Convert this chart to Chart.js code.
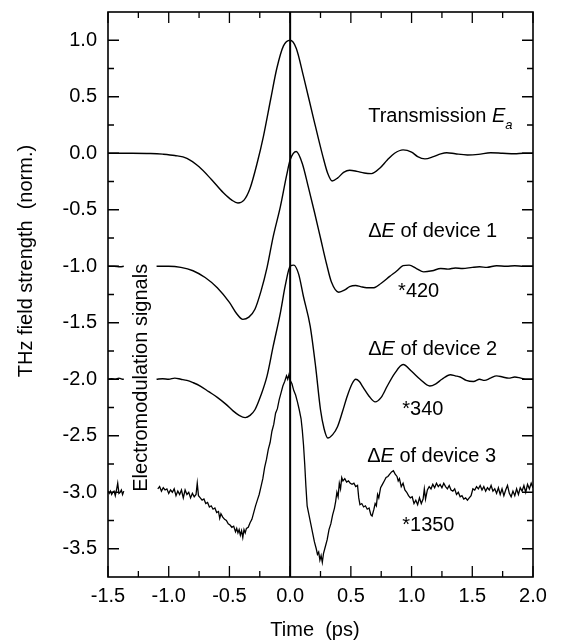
<!DOCTYPE html>
<html><head><meta charset="utf-8">
<script src="https://cdn.jsdelivr.net/npm/chart.js@4.4.0/dist/chart.umd.min.js"></script>
<style>html,body{margin:0;padding:0;background:#fff}#wrap{width:566px;height:642px;position:relative}</style>
</head><body><div id="wrap"><canvas id="c"></canvas></div>
<script>
// ---- Data ----
const transTime = [-1.5,-1.3,-1.15,-1.05,-0.95,-0.85,-0.75,-0.65,-0.55,-0.48,-0.43,-0.38,-0.33,-0.27,-0.22,-0.16,-0.11,-0.055,0.0,0.05,0.11,0.19,0.27,0.31,0.345,0.39,0.44,0.49,0.55,0.61,0.67,0.74,0.8,0.86,0.93,1.0,1.05,1.11,1.18,1.24,1.29,1.36,1.46,1.55,1.65,1.75,1.85,1.92,2.0];
const transVals = [0,0,-0.002,-0.008,-0.02,-0.045,-0.12,-0.23,-0.35,-0.415,-0.44,-0.415,-0.31,-0.08,0.15,0.48,0.75,0.95,1.0,0.93,0.68,0.32,-0.03,-0.18,-0.245,-0.22,-0.17,-0.15,-0.16,-0.175,-0.18,-0.13,-0.06,0.0,0.03,0.01,-0.03,-0.05,-0.03,-0.005,0.005,-0.005,-0.015,-0.01,0.005,0.0,-0.005,0.0,0.0];

const dev1Time = [-1.5,-1.45,-1.4,-1.37,-1.3,-1.1,-1.0,-0.9,-0.8,-0.7,-0.6,-0.5,-0.44,-0.39,-0.34,-0.29,-0.24,-0.19,-0.14,-0.08,-0.03,0.0,0.05,0.1,0.15,0.2,0.25,0.3,0.34,0.4,0.45,0.49,0.54,0.58,0.63,0.69,0.75,0.82,0.88,0.93,0.98,1.04,1.1,1.17,1.24,1.3,1.36,1.42,1.5,1.56,1.62,1.7,1.78,1.85,1.92,2.0];
const dev1Vals = [-1.0,-1.0,-1.005,-1.0,null,-1.0,-1.0,-1.01,-1.04,-1.10,-1.19,-1.32,-1.42,-1.47,-1.45,-1.38,-1.22,-1.01,-0.74,-0.47,-0.2,-0.06,0.015,-0.09,-0.3,-0.52,-0.75,-0.98,-1.14,-1.23,-1.21,-1.18,-1.17,-1.18,-1.19,-1.19,-1.15,-1.09,-1.04,-0.995,-0.99,-1.02,-1.05,-1.04,-1.02,-1.025,-1.015,-1.02,-1.01,-1.005,-1.01,-0.995,-1.0,-0.995,-1.0,-1.0];

const dev2Time = [-1.5,-1.47,-1.44,-1.41,-1.38,-1.37,-1.3,-1.1,-1.05,-1.0,-0.95,-0.9,-0.85,-0.8,-0.74,-0.67,-0.6,-0.53,-0.47,-0.42,-0.37,-0.33,-0.29,-0.24,-0.19,-0.14,-0.08,-0.04,0.0,0.03,0.07,0.11,0.165,0.21,0.25,0.28,0.31,0.35,0.39,0.43,0.47,0.51,0.54,0.57,0.6,0.65,0.7,0.75,0.8,0.86,0.93,1.0,1.07,1.15,1.2,1.25,1.32,1.36,1.4,1.45,1.51,1.56,1.6,1.65,1.7,1.75,1.8,1.85,1.9,1.95,2.0];
const dev2Vals = [-2.0,-1.995,-2.0,-1.99,-2.0,-2.0,null,-2.0,-1.995,-2.0,-1.99,-2.0,-2.01,-2.03,-2.06,-2.11,-2.16,-2.22,-2.28,-2.32,-2.34,-2.32,-2.27,-2.14,-1.97,-1.71,-1.41,-1.17,-1.0,-0.99,-1.07,-1.27,-1.53,-1.89,-2.27,-2.44,-2.52,-2.49,-2.42,-2.29,-2.15,-2.04,-2.0,-2.02,-2.07,-2.15,-2.2,-2.16,-2.06,-1.95,-1.87,-1.93,-2.0,-2.06,-2.04,-2.0,-1.96,-1.97,-1.98,-2.01,-2.02,-2.0,-2.01,-1.99,-1.97,-1.98,-1.99,-1.98,-1.99,-2.0,-2.0];

const dev3Time = [-1.5,-1.49,-1.48,-1.47,-1.46,-1.45,-1.44,-1.43,-1.42,-1.41,-1.4,-1.39,-1.38,-1.37,-1.3,
 -1.09,-1.075,-1.06,-1.045,-1.03,-1.015,-1.0,-0.985,-0.97,-0.955,-0.94,-0.925,-0.91,-0.895,-0.88,-0.865,-0.85,-0.835,-0.82,-0.805,-0.79,-0.775,-0.765,-0.755,-0.74,-0.725,-0.71,-0.695,-0.68,-0.665,-0.65,-0.635,-0.62,-0.605,-0.59,-0.58,-0.57,-0.555,-0.54,-0.525,-0.51,-0.495,-0.48,-0.465,-0.45,-0.44,-0.43,-0.42,-0.41,-0.4,-0.39,-0.38,-0.37,-0.36,-0.345,-0.33,-0.315,-0.3,-0.285,-0.27,-0.255,-0.24,-0.225,-0.21,-0.195,-0.18,-0.165,-0.15,-0.135,-0.12,-0.105,-0.09,-0.075,-0.06,-0.045,-0.03,-0.02,-0.01,
 0.0,0.015,0.03,0.045,0.06,0.075,0.09,0.1,0.11,0.12,0.13,0.14,0.155,0.17,0.185,0.2,0.215,0.225,0.235,0.245,0.255,0.265,0.275,0.29,0.305,0.32,0.335,0.35,0.365,0.375,0.385,0.395,0.405,0.415,0.425,0.435,0.45,0.465,0.48,0.495,0.51,0.525,0.54,0.555,0.565,0.575,0.59,0.605,0.62,0.635,0.65,0.665,0.675,0.69,0.7,0.71,0.72,0.73,0.745,0.76,0.775,0.79,0.805,0.82,0.835,0.85,0.865,0.88,0.89,0.9,0.915,0.93,0.945,0.96,0.975,0.99,
 1.005,1.02,1.035,1.05,1.065,1.08,1.095,1.105,1.115,1.13,1.145,1.16,1.175,1.19,1.205,1.22,1.235,1.25,1.265,1.28,1.295,1.31,1.325,1.34,1.355,1.37,1.385,1.4,1.415,1.43,1.445,1.46,1.475,1.49,1.505,1.52,1.535,1.55,1.565,1.58,1.595,1.61,1.625,1.64,1.655,1.67,1.685,1.7,1.715,1.73,1.745,1.76,1.775,1.79,1.805,1.82,1.835,1.85,1.865,1.88,1.895,1.91,1.925,1.94,1.955,1.97,1.985,2.0];
const dev3Vals = [-2.99,-3.01,-2.99,-3.02,-3.0,-2.99,-3.03,-2.98,-2.92,-3.01,-3.0,-2.98,-3.02,-2.99,null,
 -2.97,-2.95,-2.99,-2.96,-2.98,-2.97,-3.01,-2.98,-3.0,-2.97,-3.03,-2.99,-3.02,-2.98,-3.05,-2.98,-3.02,-3.0,-3.05,-3.01,-3.04,-3.02,-2.92,-3.03,-3.05,-3.07,-3.06,-3.1,-3.09,-3.13,-3.12,-3.15,-3.14,-3.18,-3.17,-3.23,-3.19,-3.22,-3.24,-3.25,-3.28,-3.29,-3.31,-3.3,-3.35,-3.32,-3.36,-3.33,-3.38,-3.34,-3.4,-3.33,-3.36,-3.32,-3.31,-3.27,-3.24,-3.18,-3.12,-3.07,-3.02,-2.95,-2.88,-2.78,-2.71,-2.62,-2.56,-2.46,-2.4,-2.3,-2.26,-2.18,-2.12,-2.06,-2.02,-1.97,-2.0,-1.96,
 -2.01,-2.04,-2.1,-2.14,-2.2,-2.27,-2.35,-2.45,-2.58,-2.75,-2.95,-3.12,-3.2,-3.28,-3.36,-3.44,-3.5,-3.55,-3.53,-3.6,-3.56,-3.62,-3.54,-3.48,-3.42,-3.33,-3.28,-3.2,-3.14,-3.08,-3.0,-3.04,-2.92,-2.97,-2.87,-2.9,-2.88,-2.91,-2.9,-2.92,-2.93,-2.92,-2.95,-2.94,-3.05,-3.11,-3.1,-3.13,-3.12,-3.15,-3.14,-3.2,-3.21,-3.15,-3.1,-3.12,-3.02,-3.05,-2.96,-2.93,-2.9,-2.87,-2.86,-2.84,-2.82,-2.81,-2.84,-2.86,-2.9,-2.88,-2.95,-2.92,-2.98,-3.0,-3.03,-3.05,
 -3.04,-3.1,-3.07,-3.11,-3.05,-3.1,-3.06,-2.97,-3.06,-2.98,-2.95,-2.97,-2.93,-2.96,-2.92,-2.95,-2.93,-2.96,-2.92,-2.95,-2.97,-2.94,-2.98,-2.99,-2.97,-3.02,-3.0,-3.04,-3.03,-3.06,-3.05,-3.07,-3.05,-3.03,-2.97,-2.98,-2.95,-2.97,-2.94,-2.98,-2.95,-2.99,-2.96,-2.98,-2.94,-2.99,-2.97,-3.01,-2.96,-3.02,-2.97,-3.03,-2.98,-2.94,-3.01,-3.04,-2.99,-3.03,-2.97,-3.02,-2.96,-2.99,-2.94,-3.0,-2.93,-2.97,-2.92,-2.96];

const zeroTime = 0.0;
const xMin = -1.5, xMax = 2.0, yMin = -3.75, yMax = 1.25;
const xTickValues = [-1.5,-1.0,-0.5,0.0,0.5,1.0,1.5,2.0];
const xMinorTicks = [-1.25,-0.75,-0.25,0.25,0.75,1.25,1.75];
const yTickValues = [-3.5,-3.0,-2.5,-2.0,-1.5,-1.0,-0.5,0.0,0.5,1.0];
const yMinorTicks = [-3.25,-2.75,-2.25,-1.75,-1.25,-0.75,-0.25,0.25,0.75];

const FONT = '"Liberation Sans", Arial, Helvetica, sans-serif';

function pts(t, v) { return t.map((x, i) => ({ x: x, y: v[i] })); }

const decorPlugin = {
  id: 'decor',
  afterDraw(chart) {
    const ctx = chart.ctx, a = chart.chartArea;
    const xs = chart.scales.x, ys = chart.scales.y;
    ctx.save();
    ctx.strokeStyle = '#000';
    ctx.lineWidth = 1.6;
    ctx.strokeRect(a.left, a.top, a.right - a.left, a.bottom - a.top);
    ctx.lineWidth = 1.3;
    const major = 11, minor = 6;
    ctx.beginPath();
    const xt = (v, len) => { const p = xs.getPixelForValue(v); ctx.moveTo(p, a.bottom); ctx.lineTo(p, a.bottom - len); ctx.moveTo(p, a.top); ctx.lineTo(p, a.top + len); };
    const yt = (v, len) => { const p = ys.getPixelForValue(v); ctx.moveTo(a.left, p); ctx.lineTo(a.left + len, p); ctx.moveTo(a.right, p); ctx.lineTo(a.right - len, p); };
    xTickValues.forEach(v => xt(v, major));
    xMinorTicks.forEach(v => xt(v, minor));
    yTickValues.forEach(v => yt(v, major));
    yMinorTicks.forEach(v => yt(v, minor));
    ctx.stroke();

    ctx.fillStyle = '#000';
    const F = (s, it) => (it ? 'italic ' : '') + s + 'px ' + FONT;
    const X = v => xs.getPixelForValue(v), Y = v => ys.getPixelForValue(v);
    ctx.textBaseline = 'alphabetic';
    ctx.textAlign = 'left';
    function runs(x, y, parts) {
      parts.forEach(p => {
        ctx.font = F(p.size || 20, p.it);
        ctx.fillText(p.t, x, y + (p.dy || 0));
        x += ctx.measureText(p.t).width;
      });
    }
    runs(X(0.643), Y(0.277), [{ t: 'Transmission ' }, { t: 'E', it: true }, { t: 'a', it: true, size: 13, dy: 7 }]);
    runs(X(0.643), Y(-0.74), [{ t: '\u0394' }, { t: 'E', it: true }, { t: ' of device 1' }]);
    runs(X(0.889), Y(-1.27), [{ t: '*420' }]);
    runs(X(0.643), Y(-1.783), [{ t: '\u0394' }, { t: 'E', it: true }, { t: ' of device 2' }]);
    runs(X(0.923), Y(-2.314), [{ t: '*340' }]);
    runs(X(0.634), Y(-2.729), [{ t: '\u0394' }, { t: 'E', it: true }, { t: ' of device 3' }]);
    runs(X(0.923), Y(-3.34), [{ t: '*1350' }]);

    ctx.font = F(20);
    ctx.textAlign = 'center';
    ctx.save();
    ctx.translate(X(-1.178), Y(-1.987));
    ctx.rotate(-Math.PI / 2);
    ctx.fillText('Electromodulation signals', 0, 0);
    ctx.restore();

    ctx.save();
    ctx.translate(32, 261);
    ctx.rotate(-Math.PI / 2);
    ctx.fillText('THz field strength  (norm.)', 0, 0);
    ctx.restore();

    ctx.fillText('Time  (ps)', 315, 636);
    ctx.restore();
  }
};

const lineDs = (data, smooth, width) => ({
  data: data, showLine: true, borderColor: '#000', backgroundColor: '#000',
  borderWidth: width, pointRadius: 0, pointHoverRadius: 0,
  cubicInterpolationMode: smooth ? 'monotone' : 'default', tension: 0,
  spanGaps: false, fill: false
});

new Chart(document.getElementById('c'), {
  type: 'scatter',
  data: {
    datasets: [
      lineDs(pts(transTime, transVals), true, 1.4),
      lineDs(pts(dev1Time, dev1Vals), true, 1.4),
      lineDs(pts(dev2Time, dev2Vals), true, 1.4),
      lineDs(pts(dev3Time, dev3Vals), false, 1.3),
      lineDs([{ x: zeroTime, y: yMin }, { x: zeroTime, y: yMax }], false, 2)
    ]
  },
  options: {
    responsive: true, maintainAspectRatio: false, animation: false,
    layout: { padding: { top: 12, right: 33, left: 0, bottom: 0 } },
    plugins: { legend: { display: false }, tooltip: { enabled: false } },
    scales: {
      x: {
        type: 'linear', min: xMin, max: xMax,
        afterFit(s) { s.height = 65; s.paddingLeft = 0; s.paddingRight = 0; },
        afterBuildTicks(s) { s.ticks = xTickValues.map(v => ({ value: v })); },
        ticks: { callback: v => Number(v).toFixed(1), font: { family: FONT, size: 20 }, color: '#000', padding: 7, maxRotation: 0, autoSkip: false },
        grid: { display: false, drawTicks: false, tickLength: 0 },
        border: { display: false }
      },
      y: {
        type: 'linear', min: yMin, max: yMax,
        afterFit(s) { s.width = 108; s.paddingTop = 0; s.paddingBottom = 0; },
        afterBuildTicks(s) { s.ticks = yTickValues.map(v => ({ value: v })); },
        ticks: { callback: v => Number(v).toFixed(1), font: { family: FONT, size: 20 }, color: '#000', padding: 11, autoSkip: false },
        grid: { display: false, drawTicks: false, tickLength: 0 },
        border: { display: false }
      }
    }
  },
  plugins: [decorPlugin]
});
</script></body></html>
